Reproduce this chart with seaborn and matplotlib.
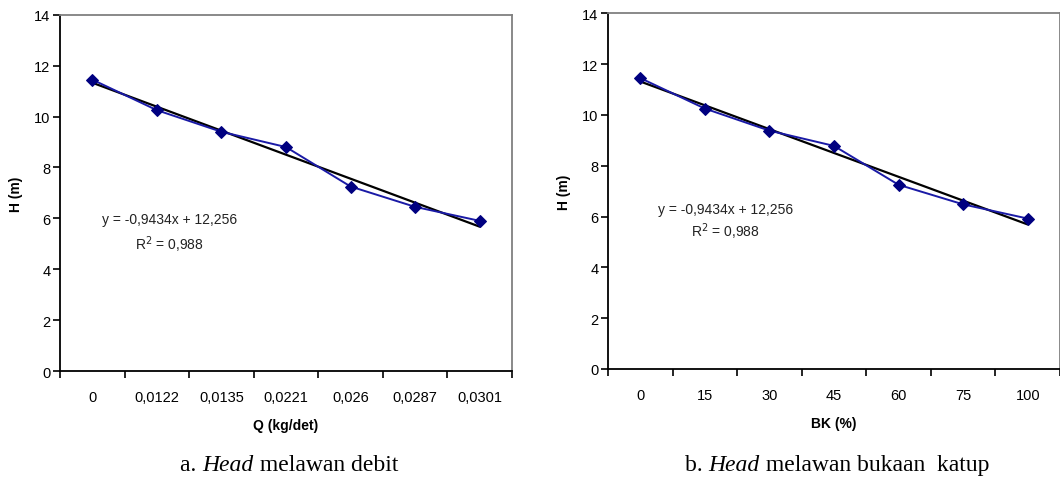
import numpy as np
import pandas as pd
import matplotlib
matplotlib.use("Agg")
import matplotlib.pyplot as plt
import seaborn as sns
from matplotlib.ticker import FixedLocator

# ---- data ----
q_labels = ["0", "0,0122", "0,0135", "0,0221", "0,026", "0,0287", "0,0301"]
bk_labels = ["0", "15", "30", "45", "60", "75", "100"]
head_q = [11.45, 10.25, 9.40, 8.80, 7.25, 6.45, 5.90]
head_bk = [11.45, 10.25, 9.38, 8.78, 7.25, 6.48, 5.92]
eq_text = "y = -0,9434x + 12,256"
r2_text = "R$^{2}$ = 0,988"
xlabels = ["Q (kg/det)", "BK (%)"]
ylabel = "H (m)"
captions = [("a. ", "Head", " melawan debit"), ("b. ", "Head", " melawan bukaan  katup")]

sns.set_theme(style="white")
plt.rcParams['font.family'] = ['Liberation Sans', 'DejaVu Sans']

fig = plt.figure(figsize=(10.6, 4.81), dpi=100)
axes_pos = [[0.0566, 0.2266, 0.4264, 0.7407],
            [0.5736, 0.2308, 0.4264, 0.7395]]
ann_pos = [(0.243, 0.427, 0.356), (0.259, 0.45, 0.388)]
cap_x = [0.170, 0.646]
serif = ["Liberation Serif", "DejaVu Serif"]
cap_fs = 17

for i, (labels, h) in enumerate([(q_labels, head_q), (bk_labels, head_bk)]):
    ax = fig.add_axes(axes_pos[i])
    df = pd.DataFrame({"pos": np.arange(len(labels)), "H": h})
    # trendline (linear regression)
    sns.regplot(data=df, x="pos", y="H", ax=ax, scatter=False, ci=None,
                truncate=True, color="black", line_kws={"lw": 1.6, "zorder": 2})
    sns.lineplot(data=df, x="pos", y="H", ax=ax, color="#1a1aa6", lw=1.4,
                 marker="D", markersize=6.5, markerfacecolor="#000080",
                 markeredgecolor="#000080", zorder=3)
    ax.set_xlim(-0.5, len(labels) - 0.5)
    ax.set_ylim(0, 14)
    ax.set_yticks(np.arange(0, 15, 2))
    ax.set_xticks(df["pos"])
    ax.set_xticklabels(labels)
    ax.xaxis.set_minor_locator(FixedLocator(np.arange(-0.5, len(labels), 1.0)))
    ax.tick_params(axis="x", which="major", length=0, pad=14, labelsize=10.5, colors="black")
    ax.tick_params(axis="x", which="minor", length=5, width=1.2, color="black", bottom=True)
    ax.tick_params(axis="y", which="major", length=5, width=1.2, color="black",
                   left=True, labelsize=10.5, pad=2, labelcolor="black")
    for s in ["left", "bottom"]:
        ax.spines[s].set_color("black")
        ax.spines[s].set_linewidth(1.3)
    for s in ["top", "right"]:
        ax.spines[s].set_color("#808080")
        ax.spines[s].set_linewidth(1.3)
    ax.set_xlabel(xlabels[i], fontsize=10, fontweight="bold", labelpad=10, color="black")
    ax.set_ylabel(ylabel, fontsize=10, fontweight="bold", labelpad=8, color="black")
    ax.grid(False)
    ax.set_facecolor("white")
    ax.text(ann_pos[i][0], ann_pos[i][1], eq_text, transform=ax.transAxes,
            ha="center", va="center", fontsize=10, color="#222222")
    ax.text(ann_pos[i][0], ann_pos[i][2], r2_text, transform=ax.transAxes,
            ha="center", va="center", fontsize=10, color="#222222")

# captions (upright / italic / upright pieces)
fig.canvas.draw()
inv = fig.transFigure.inverted()
for i, parts in enumerate(captions):
    x = cap_x[i]
    for j, part in enumerate(parts):
        t = fig.text(x, 0.033, part, ha="left", va="center", fontsize=cap_fs,
                     family=serif, style="italic" if j == 1 else "normal", color="black")
        fig.canvas.draw()
        bb = t.get_window_extent()
        x = inv.transform((bb.x1, bb.y0))[0]

fig.savefig("out.png", dpi=100, facecolor="white")
